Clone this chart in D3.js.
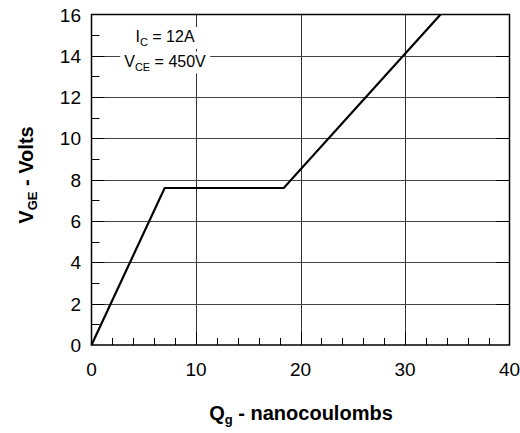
<!DOCTYPE html>
<html>
<head>
<meta charset="utf-8" />
<title>Gate charge</title>
<script src="https://cdn.jsdelivr.net/npm/d3@7"></script>
<style>
  body { margin: 0; background: #fff; }
  text { font-family: "Liberation Sans", Arial, Helvetica, sans-serif; fill: #000; }
</style>
</head>
<body>
<div id="chart"></div>
<script>
// gate charge curve
var qg = [0, 7.0, 18.4, 33.4];
var vge = [0, 7.6, 7.6, 16];

var xTicks = [0, 10, 20, 30, 40];
var yTicks = [0, 2, 4, 6, 8, 10, 12, 14, 16];

var w = 520, h = 433;
// plot box (note: "top" is reserved on window, so use other names)
var pLeft = 91.5, pRight = 509.5, pTop = 14.5, pBottom = 345;

var svg = d3.select("#chart").append("svg")
    .attr("width", w)
    .attr("height", h);

var x = d3.scaleLinear().domain([0, 40]).range([pLeft, pRight]);
var y = d3.scaleLinear().domain([0, 16]).range([pBottom, pTop]);

// grid
svg.append("g").selectAll("line")
    .data(xTicks.slice(1, -1))
    .enter().append("line")
    .attr("x1", function (d) { return Math.round(x(d)) + 0.5; })
    .attr("x2", function (d) { return Math.round(x(d)) + 0.5; })
    .attr("y1", pTop).attr("y2", pBottom)
    .attr("stroke", "#333").attr("stroke-width", 1);

svg.append("g").selectAll("line")
    .data(yTicks.slice(1, -1))
    .enter().append("line")
    .attr("y1", function (d) { return Math.round(y(d)) + 0.5; })
    .attr("y2", function (d) { return Math.round(y(d)) + 0.5; })
    .attr("x1", pLeft).attr("x2", pRight)
    .attr("stroke", "#444").attr("stroke-width", 1);

// minor ticks
var xMinor = d3.range(2, 40, 2).filter(function (d) { return d % 10 != 0; });
var yMinor = d3.range(1, 16, 2);

svg.append("g").selectAll("line")
    .data(xMinor)
    .enter().append("line")
    .attr("x1", function (d) { return Math.round(x(d)) + 0.5; })
    .attr("x2", function (d) { return Math.round(x(d)) + 0.5; })
    .attr("y1", pBottom).attr("y2", pBottom - 7)
    .attr("stroke", "#000");

svg.append("g").selectAll("line")
    .data(yMinor)
    .enter().append("line")
    .attr("y1", function (d) { return Math.round(y(d)) + 0.5; })
    .attr("y2", function (d) { return Math.round(y(d)) + 0.5; })
    .attr("x1", pLeft).attr("x2", pLeft + 8)
    .attr("stroke", "#000");

// major ticks (darker bits on the gridlines)
svg.append("g").selectAll("line")
    .data(xTicks.slice(1, -1))
    .enter().append("line")
    .attr("x1", function (d) { return Math.round(x(d)) + 0.5; })
    .attr("x2", function (d) { return Math.round(x(d)) + 0.5; })
    .attr("y1", pBottom).attr("y2", pBottom - 13)
    .attr("stroke", "#000");

svg.append("g").selectAll("line")
    .data(yTicks.slice(1, -1))
    .enter().append("line")
    .attr("y1", function (d) { return Math.round(y(d)) + 0.5; })
    .attr("y2", function (d) { return Math.round(y(d)) + 0.5; })
    .attr("x1", pLeft).attr("x2", pLeft + 13)
    .attr("stroke", "#000");

svg.append("g").selectAll("line")
    .data(yTicks.slice(1, -1))
    .enter().append("line")
    .attr("y1", function (d) { return Math.round(y(d)) + 0.5; })
    .attr("y2", function (d) { return Math.round(y(d)) + 0.5; })
    .attr("x1", pRight).attr("x2", pRight - 13)
    .attr("stroke", "#000");

// annotation with white box behind
var note = svg.append("g");
var lines = [
    { main: "I", sub: "C", rest: " = 12A", y: 42 },
    { main: "V", sub: "CE", rest: " = 450V", y: 66.5 }
];
lines.forEach(function (l) {
    var t = note.append("text")
        .attr("x", 165)
        .attr("y", l.y)
        .attr("text-anchor", "middle")
        .attr("font-size", "16px");
    t.append("tspan").text(l.main);
    t.append("tspan").attr("font-size", "11px").attr("dy", 4).text(l.sub);
    t.append("tspan").attr("dy", -4).text(l.rest);
    var b = t.node().getBBox();
    note.insert("rect", "text")
        .attr("x", b.x - 4).attr("y", b.y - 1)
        .attr("width", b.width + 8).attr("height", b.height + 2)
        .attr("fill", "#fff");
});

// curve
var line = d3.line()
    .x(function (d, i) { return x(qg[i]); })
    .y(function (d) { return y(d); });

svg.append("path")
    .datum(vge)
    .attr("d", line)
    .attr("fill", "none")
    .attr("stroke", "#000")
    .attr("stroke-width", 2.2)
    .attr("stroke-linejoin", "miter");

// frame
svg.append("rect")
    .attr("x", pLeft).attr("y", pTop)
    .attr("width", pRight - pLeft).attr("height", pBottom - pTop)
    .attr("fill", "none")
    .attr("stroke", "#000")
    .attr("stroke-width", 1.5);

// tick labels
svg.append("g").selectAll("text")
    .data(xTicks)
    .enter().append("text")
    .attr("x", function (d) { return x(d); })
    .attr("y", 375.5)
    .attr("text-anchor", "middle")
    .attr("font-size", "19px")
    .text(function (d) { return d; });

svg.append("g").selectAll("text")
    .data(yTicks)
    .enter().append("text")
    .attr("x", 81)
    .attr("y", function (d) { return y(d) + 7; })
    .attr("text-anchor", "end")
    .attr("font-size", "19px")
    .text(function (d) { return d; });

// axis titles
var xt = svg.append("text")
    .attr("x", 301)
    .attr("y", 420)
    .attr("text-anchor", "middle")
    .attr("font-size", "20px")
    .attr("font-weight", "bold");
xt.append("tspan").text("Q");
xt.append("tspan").attr("font-size", "13px").attr("dy", 4).text("g");
xt.append("tspan").attr("dy", -4).text(" - nanocoulombs");

var yt = svg.append("text")
    .attr("transform", "translate(33,175) rotate(-90)")
    .attr("text-anchor", "middle")
    .attr("font-size", "20px")
    .attr("font-weight", "bold");
yt.append("tspan").text("V");
yt.append("tspan").attr("font-size", "13px").attr("dy", 4).text("GE");
yt.append("tspan").attr("dy", -4).text(" - Volts");
</script>
</body>
</html>
